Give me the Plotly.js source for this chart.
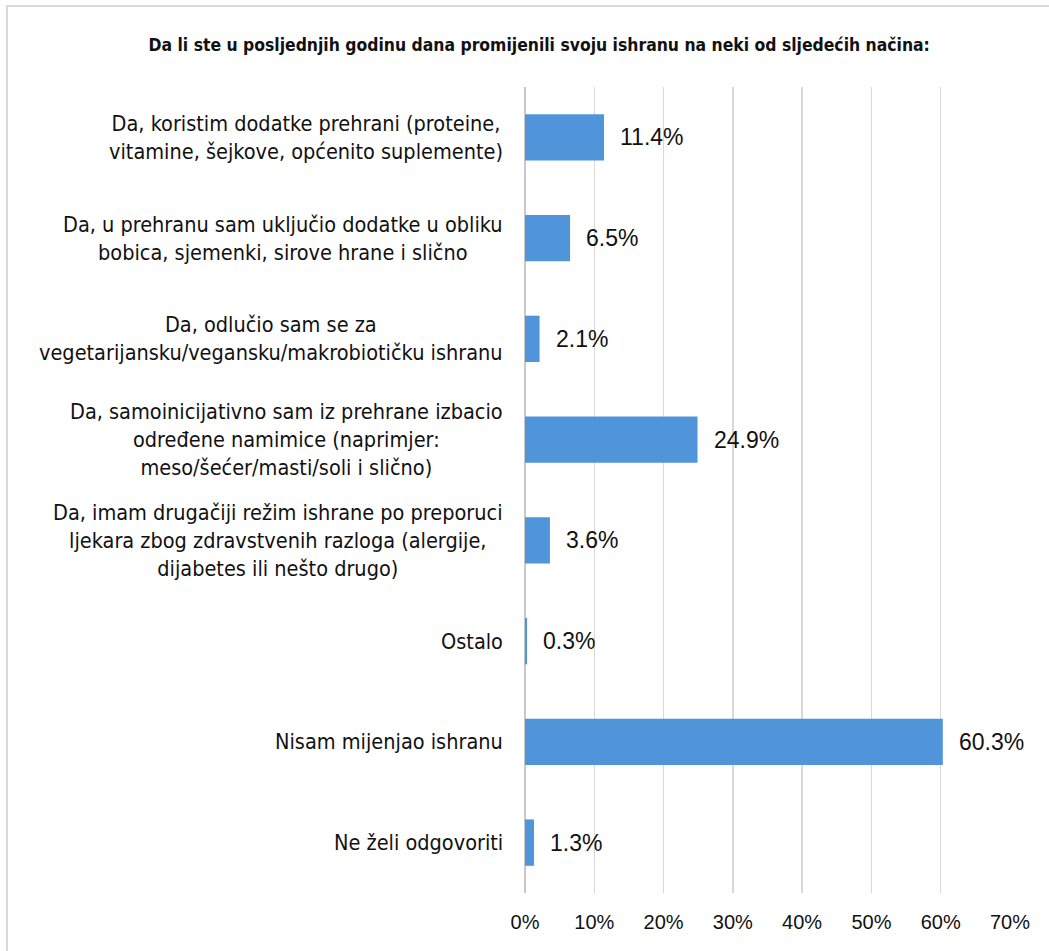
<!DOCTYPE html>
<html>
<head>
<meta charset="utf-8">
<script src="https://cdn.plot.ly/plotly-3.0.1.min.js"></script>
<style>
html,body{margin:0;padding:0;background:#fff;overflow:hidden;}
#chart{position:absolute;left:0;top:0;width:1049px;height:951px;}
#frame{position:absolute;left:6px;top:5px;width:1100px;height:1000px;border-left:2px solid #d9d9d9;border-top:2px solid #d9d9d9;pointer-events:none;}
</style>
</head>
<body>
<div id="chart"></div>
<div id="frame"></div>
<script>
const categories = [
  "Da, koristim dodatke prehrani (proteine,<br>vitamine, šejkove, općenito suplemente)",
  "Da, u prehranu sam uključio dodatke u obliku<br>bobica, sjemenki, sirove hrane i slično",
  "Da, odlučio sam se za<br>vegetarijansku/vegansku/makrobiotičku ishranu",
  "Da, samoinicijativno sam iz prehrane izbacio<br>određene namimice (naprimjer:<br>meso/šećer/masti/soli i slično)",
  "Da, imam drugačiji režim ishrane po preporuci<br>ljekara zbog zdravstvenih razloga (alergije,<br>dijabetes ili nešto drugo)",
  "Ostalo",
  "Nisam mijenjao ishranu",
  "Ne želi odgovoriti"
];
const values = [11.4, 6.5, 2.1, 24.9, 3.6, 0.3, 60.3, 1.3];
const tickValues = [0, 10, 20, 30, 40, 50, 60, 70];
const tickLabels = ["0%", "10%", "20%", "30%", "40%", "50%", "60%", "70%"];
const titleText = "Da li ste u posljednjih godinu dana promijenili svoju ishranu na neki od sljedećih načina:";

const idx = categories.map((c, i) => i);
const labelFont = {family: "DejaVu Sans Condensed, sans-serif", size: 21.5, color: "#111"};
const valueFont = {family: "Liberation Sans, Arial, sans-serif", size: 23, color: "#111"};

const annotations = [];
idx.forEach(i => {
  annotations.push({
    xref: "paper", yref: "y", x: 0, y: i, xanchor: "right", yanchor: "middle",
    xshift: -20, align: "center", showarrow: false, text: categories[i], font: labelFont
  });
  annotations.push({
    xref: "x", yref: "y", x: values[i], y: i, xanchor: "left", yanchor: "middle",
    xshift: 14, showarrow: false, text: values[i].toFixed(1) + "%", font: valueFont
  });
});

const trace = {
  type: "bar", orientation: "h", x: values, y: idx, width: 0.46,
  marker: {color: "#5094d9", line: {width: 0}},
  hoverinfo: "skip"
};

const layout = {
  width: 1049, height: 951,
  margin: {l: 525, r: 39, t: 87, b: 58, pad: 0},
  paper_bgcolor: "#fff", plot_bgcolor: "#fff",
  showlegend: false,
  title: {
    text: titleText, xref: "container", yref: "container", x: 0.514, y: 0.953,
    xanchor: "center", yanchor: "middle",
    font: {family: "DejaVu Sans Condensed, sans-serif", size: 17.4, color: "#111", weight: "bold"}
  },
  xaxis: {
    range: [0, 70], tickvals: tickValues, ticktext: tickLabels,
    showgrid: true, gridcolor: "#d9d9d9", gridwidth: 1.3,
    zeroline: true, zerolinecolor: "#c8c8c8", zerolinewidth: 1.5,
    showline: false, ticks: "", ticklabelstandoff: 15,
    tickfont: {family: "Liberation Sans, Arial, sans-serif", size: 20, color: "#111"},
    fixedrange: true
  },
  yaxis: {
    range: [7.5, -0.5], showticklabels: false, showgrid: false, zeroline: false,
    showline: false, ticks: "", fixedrange: true
  },
  annotations: annotations
};

Plotly.newPlot("chart", [trace], layout, {displayModeBar: false, staticPlot: true});
</script>
</body>
</html>
